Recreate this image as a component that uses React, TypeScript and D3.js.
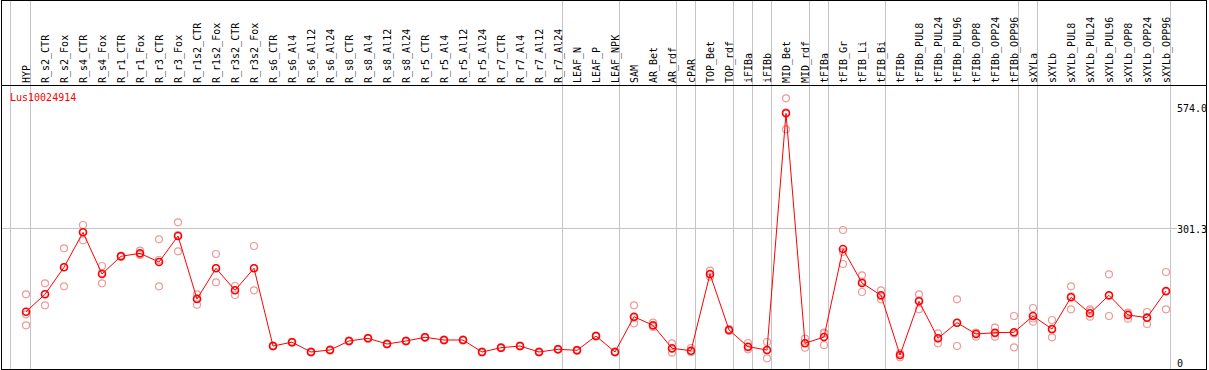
import React from "react";
import * as d3 from "d3";

const title = "Lus10024914";

const categories = [
  "HYP", "R_s2_CTR", "R_s2_Fox", "R_s4_CTR", "R_s4_Fox", "R_r1_CTR", "R_r1_Fox", "R_r3_CTR", "R_r3_Fox",
  "R_r1s2_CTR", "R_r1s2_Fox", "R_r3s2_CTR", "R_r3s2_Fox", "R_s6_CTR", "R_s6_Al4", "R_s6_Al12", "R_s6_Al24",
  "R_s8_CTR", "R_s8_Al4", "R_s8_Al12", "R_s8_Al24", "R_r5_CTR", "R_r5_Al4", "R_r5_Al12", "R_r5_Al24",
  "R_r7_CTR", "R_r7_Al4", "R_r7_Al12", "R_r7_Al24", "LEAF_N", "LEAF_P", "LEAF_NPK", "SAM", "AR_Bet", "AR_rdf",
  "cPAR", "TOP_Bet", "TOP_rdf", "iFIBa", "iFIBb", "MID_Bet", "MID_rdf", "tFIBa", "tFIB_Gr", "tFIB_Li", "tFIB_Bi",
  "tFIBb", "tFIBb_PUL8", "tFIBb_PUL24", "tFIBb_PUL96", "tFIBb_OPP8", "tFIBb_OPP24", "tFIBb_OPP96", "sXYLa",
  "sXYLb", "sXYLb_PUL8", "sXYLb_PUL24", "sXYLb_PUL96", "sXYLb_OPP8", "sXYLb_OPP24", "sXYLb_OPP96",
];

const means = [
  112.2, 151.4, 212.2, 291.0, 197.1, 237.0, 243.7, 224.1, 282.7,
  140.8, 210.0, 160.4, 210.0, 34.9, 43.5, 21.4, 25.9,
  46.2, 52.3, 39.4, 46.2, 54.5, 48.4, 48.4, 21.4,
  31.1, 34.9, 21.4, 27.5, 25.2, 57.4, 21.4, 100.9, 81.5, 29.7,
  24.3, 197.1, 71.0, 33.3, 25.9, 559.1, 41.0, 55.2, 253.4, 176.8, 149.1,
  14.6, 135.6, 52.3, 87.4, 61.9, 64.9, 65.8, 102.5,
  73.2, 144.6, 108.6, 149.1, 104.8, 98.7, 158.8,
];

const rep1 = [
  151.4, 176.2, 255.0, 307.5, 215.1, 238.3, 249.6, 275.3, 313.6,
  151.4, 242.2, 170.1, 260.2, 36.0, 44.5, 22.5, 27.0,
  47.3, 53.4, 40.5, 47.3, 55.6, 49.5, 49.5, 22.5,
  32.2, 36.0, 22.5, 28.6, 26.3, 58.5, 22.5, 126.6, 87.4, 41.0,
  30.4, 204.5, 73.2, 41.7, 43.9, 592.9, 51.4, 63.5, 296.2, 194.2, 160.4,
  18.5, 151.4, 63.5, 140.1, 55.9, 76.1, 102.5, 120.5,
  93.5, 169.4, 117.6, 196.4, 109.9, 111.5, 201.6,
];

const rep2 = [
  106.3, 126.6, 169.4, 273.0, 176.2, 237.7, 241.7, 169.4, 248.2,
  128.0, 178.4, 149.8, 160.4, 33.8, 42.4, 20.3, 24.8,
  45.1, 51.2, 38.3, 45.1, 53.4, 47.3, 47.3, 20.3,
  30.0, 33.8, 20.3, 26.4, 24.1, 56.3, 20.3, 86.1, 79.9, 19.8,
  21.4, 191.0, 68.7, 27.5, 7.2, 523.1, 31.1, 37.2, 219.6, 156.6, 140.1,
  9.5, 117.6, 41.0, 34.9, 65.3, 55.9, 32.0, 89.7,
  54.5, 117.6, 100.9, 102.5, 96.4, 84.5, 117.6,
];

const rep3 = [
  81.5, 152.0, 212.9, 291.7, 199.4, 235.4, 239.9, 228.6, 285.0,
  143.0, 210.6, 161.0, 210.6, 35.0, 43.6, 21.5, 26.0,
  46.3, 52.4, 39.5, 46.3, 54.6, 48.5, 48.5, 21.5,
  31.2, 35.0, 21.5, 27.6, 25.3, 57.5, 21.5, 98.0, 77.7, 28.2,
  21.4, 196.0, 71.0, 31.5, 25.9, 561.0, 41.7, 64.9, 247.0, 180.0, 147.0,
  14.6, 138.0, 52.0, 87.0, 64.2, 63.0, 63.0, 96.9,
  71.6, 147.0, 113.8, 148.0, 108.0, 100.0, 157.0,
];

// group separators drawn to the right of these categories
const separatorAfter = [
  "HYP", "R_r7_Al24", "LEAF_NPK", "AR_rdf", "cPAR", "TOP_rdf", "iFIBa", "iFIBb",
  "MID_rdf", "tFIBa", "tFIB_Bi", "tFIBb_OPP96", "sXYLa", "sXYLb_OPP96",
];

const yTickValues = [0, 301.3, 574.0];
const yTickLabels = ["0", "301.3", "574.0"];
const yGridValues = [301.3];

const W = 1209;
const H = 370;
const FONT = "'DejaVu Sans Mono', 'Liberation Mono', monospace";
const GRID = "#c4c4c4";
const RED = "#ff0000";
const PINK = "#ee9a9a";

export default function App() {
  const x = d3
    .scalePoint<string>()
    .domain(categories)
    .range([26, 26 + 19 * (categories.length - 1)]);
  const y = d3.scaleLinear().domain([0, 574]).range([361.5, 106.7]);

  const line = d3
    .line<number>()
    .x((_, i) => x(categories[i]) as number)
    .y((d) => y(d));

  const reps = [rep1, rep2, rep3];
  const sepXs = [10.5, ...separatorAfter.map((c) => Math.round(x(c) as number) + 4.5)];
  const rightEdge = 1206.5;

  return (
    <svg
      width={W}
      height={H}
      style={{ position: "absolute", left: 0, top: 0, background: "#fff" }}
      fontFamily={FONT}
    >
      <rect x={0} y={0} width={W} height={H} fill="#fff" />
      {/* vertical separators */}
      {sepXs.map((sx, i) => (
        <line key={"v" + i} x1={sx} x2={sx} y1={0} y2={369} stroke={GRID} strokeWidth={1} />
      ))}
      {/* horizontal grid */}
      {yGridValues.map((v, i) => (
        <line
          key={"h" + i}
          x1={1.5}
          x2={1177}
          y1={Math.round(y(v)) + 0.5}
          y2={Math.round(y(v)) + 0.5}
          stroke={GRID}
          strokeWidth={1}
        />
      ))}
      {/* header labels */}
      {categories.map((c) => {
        const cx = x(c) as number;
        return (
          <text
            key={"lab" + c}
            transform={`translate(${cx + 3.5},83) rotate(-90)`}
            fontSize={10}
            fill="#000"
          >
            {c}
          </text>
        );
      })}
      {/* title */}
      <text x={10} y={100.5} fontSize={10} fill={RED}>
        {title}
      </text>
      {/* y tick labels */}
      {yTickValues.map((v, i) => (
        <text key={"yt" + i} x={1177} y={y(v) + 5.5} fontSize={10} fill="#000">
          {yTickLabels[i]}
        </text>
      ))}
      {/* replicates */}
      {reps.map((r, ri) =>
        r.map((v, i) => (
          <circle
            key={`r${ri}-${i}`}
            cx={x(categories[i]) as number}
            cy={y(v)}
            r={3.5}
            fill="none"
            stroke={PINK}
            strokeWidth={1.2}
          />
        ))
      )}
      {/* mean line */}
      <path d={line(means) || ""} fill="none" stroke={RED} strokeWidth={1} />
      {means.map((v, i) => (
        <circle
          key={"m" + i}
          cx={x(categories[i]) as number}
          cy={y(v)}
          r={3.5}
          fill="none"
          stroke={RED}
          strokeWidth={1.6}
        />
      ))}
      {/* frame */}
      <rect x={rightEdge} y={0} width={W - rightEdge} height={H} fill="#fff" />
      <line x1={1.5} x2={1.5} y1={0} y2={370} stroke="#000" strokeWidth={1} />
      <line x1={rightEdge} x2={rightEdge} y1={0} y2={370} stroke="#000" strokeWidth={1} />
      <line x1={1} x2={rightEdge} y1={0.5} y2={0.5} stroke="#000" strokeWidth={1} />
      <line x1={1} x2={rightEdge} y1={85.5} y2={85.5} stroke="#000" strokeWidth={1} />
      <line x1={1} x2={rightEdge} y1={369.5} y2={369.5} stroke="#000" strokeWidth={1} />
    </svg>
  );
}
